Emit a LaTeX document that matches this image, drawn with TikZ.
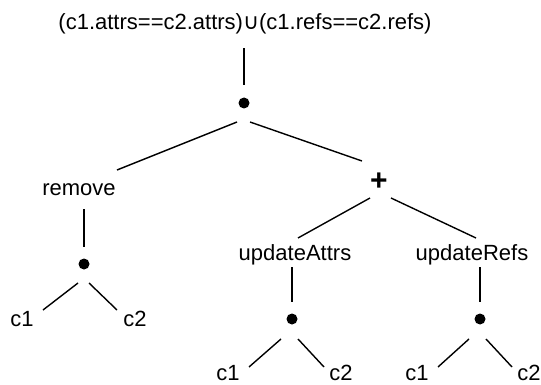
\documentclass[tikz,border=0pt]{standalone}
\usepackage{fontspec}
\setmainfont{Liberation Sans}
\newfontfamily\symfont{DejaVu Sans}
\begin{document}
\begin{tikzpicture}[x=1pt,y=-1pt,
  lbl/.style={inner sep=0pt, font=\fontsize{22}{26}\selectfont,
    text height=16pt, text depth=5pt, anchor=center},
  opnode/.style={inner sep=0pt, font=\fontsize{30}{34}\selectfont\bfseries},
  dot/.style={circle, fill=black, inner sep=0pt, minimum size=11pt},
  edge/.style={line width=1.4pt}]
\useasboundingbox (0,0) rectangle (541,385);

% labels and joints of the expression tree
\node[lbl] (top) at (245,24.5) {(c1.attrs==c2.attrs){\symfont ∪}(c1.refs==c2.refs)};
\node[dot] (d1) at (244,103) {};
\node[lbl] (remove) at (79,189.5) {remove};
\node[opnode] (plus) at (379,182) {+};
\node[dot] (d2) at (84,264) {};
\node[lbl] (c1a) at (22,320.5) {c1};
\node[lbl] (c2a) at (135,320.5) {c2};
\node[lbl] (ua) at (295,254.5) {updateAttrs};
\node[lbl] (ur) at (472,254.5) {updateRefs};
\node[dot] (d3) at (292,319) {};
\node[dot] (d4) at (480,319) {};
\node[lbl] (c1b) at (228,374.5) {c1};
\node[lbl] (c2b) at (341,374.5) {c2};
\node[lbl] (c1c) at (417,374.5) {c1};
\node[lbl] (c2c) at (529,374.5) {c2};

% vertical stems
\draw[edge, shorten <=13pt, shorten >=12.5pt] (top.south -| d1) -- (d1.north);
\draw[edge, shorten <=9pt, shorten >=11.5pt] (remove.south -| d2) -- (d2.north);
\draw[edge, shorten <=2pt, shorten >=11.5pt] (ua.south -| d3) -- (d3.north);
\draw[edge, shorten <=2pt, shorten >=11.5pt] (ur.south -| d4) -- (d4.north);

% branches
\draw[edge] ([shift={(-7,19)}]d1.center) -- ([shift={(38,-19.5)}]remove.center);
\draw[edge] ([shift={(6,19)}]d1.center) -- ([shift={(-17,-21)}]plus.center);
\draw[edge] ([shift={(-9,16)}]plus.center) -- ([shift={(3,-16.5)}]ua.center);
\draw[edge] ([shift={(12,16)}]plus.center) -- ([shift={(4,-16.5)}]ur.center);
\draw[edge] ([shift={(-6,19)}]d2.center) -- ([shift={(21,-10.5)}]c1a.center);
\draw[edge] ([shift={(5,19)}]d2.center) -- ([shift={(-18,-10.5)}]c2a.center);
\draw[edge] ([shift={(-11,20)}]d3.center) -- ([shift={(21,-7.5)}]c1b.center);
\draw[edge] ([shift={(6,20)}]d3.center) -- ([shift={(-17,-7.5)}]c2b.center);
\draw[edge] ([shift={(-11,20)}]d4.center) -- ([shift={(21,-7.5)}]c1c.center);
\draw[edge] ([shift={(6,20)}]d4.center) -- ([shift={(-17,-7.5)}]c2c.center);
\end{tikzpicture}
\end{document}
